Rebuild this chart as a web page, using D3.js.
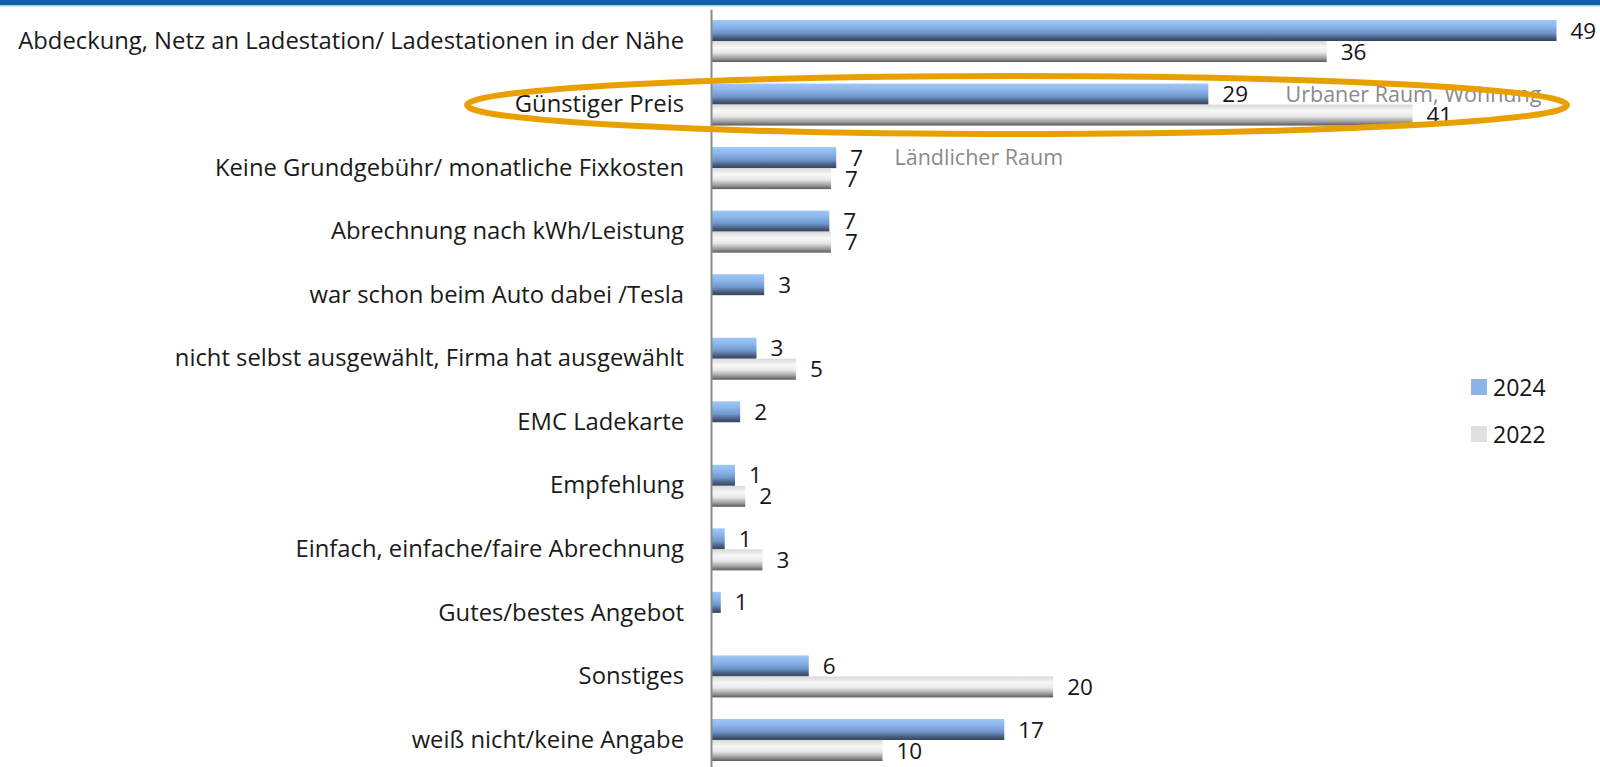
<!DOCTYPE html>
<html>
<head>
<meta charset="utf-8">
<script src="https://cdn.jsdelivr.net/npm/d3@7"></script>
<style>
  html, body { margin: 0; padding: 0; background: #fff; }
  svg { display: block; }
</style>
</head>
<body>
<script>
// ---- data ----
const categories = [
  "Abdeckung, Netz an Ladestation/ Ladestationen in der Nähe",
  "Günstiger Preis",
  "Keine Grundgebühr/ monatliche Fixkosten",
  "Abrechnung nach kWh/Leistung",
  "war schon beim Auto dabei /Tesla",
  "nicht selbst ausgewählt, Firma hat ausgewählt",
  "EMC Ladekarte",
  "Empfehlung",
  "Einfach, einfache/faire Abrechnung",
  "Gutes/bestes Angebot",
  "Sonstiges",
  "weiß nicht/keine Angabe"
];
const seriesNames = ["2024", "2022"];
const values2024 = [49.3, 29.0, 7.3, 6.9, 3.1, 2.65, 1.7, 1.4, 0.8, 0.57, 5.7, 17.1];
const values2022 = [35.9, 40.9, 7.0, 7.0, null, 4.95, null, 2.0, 3.0, null, 19.95, 10.0];
const annotations = [
  { text: "Urbaner Raum, Wohnung", cat: "Günstiger Preis", value: 33.5, series: "2024" },
  { text: "Ländlicher Raum", cat: "Keine Grundgebühr/ monatliche Fixkosten", value: 10.7, series: "2024" }
];

const W = 1600, H = 767;
const svg = d3.select("body").append("svg").attr("width", W).attr("height", H);

const defs = svg.append("defs");
const gBlue = defs.append("linearGradient").attr("id", "gBlue").attr("x1", 0).attr("y1", 0).attr("x2", 0).attr("y2", 1);
[[0, "#9fc7f5"], [0.3, "#8cb6ec"], [0.62, "#6f96cb"], [0.85, "#485c7d"], [1, "#34445e"]]
  .forEach(([o, c]) => gBlue.append("stop").attr("offset", o).attr("stop-color", c));
const gGray = defs.append("linearGradient").attr("id", "gGray").attr("x1", 0).attr("y1", 0).attr("x2", 0).attr("y2", 1);
[[0, "#d8d8d8"], [0.3, "#f8f8f8"], [0.55, "#e8e8e8"], [0.82, "#9c9c9c"], [1, "#5a5a5a"]]
  .forEach(([o, c]) => gGray.append("stop").attr("offset", o).attr("stop-color", c));

// top band
svg.append("rect").attr("x", 0).attr("y", 0).attr("width", W).attr("height", 5).attr("fill", "#0b62a8");
svg.append("rect").attr("x", 0).attr("y", 5).attr("width", W).attr("height", 1.5).attr("fill", "#a9cbe9");

// scales
const x = d3.scaleLinear().domain([0, 50]).range([711, 711 + 50 * 17.15]);
const y = d3.scaleBand().domain(categories).range([9.25, 771.75]).paddingInner(0).paddingOuter(0);
const inner = d3.scaleBand().domain(seriesNames).range([0, 42]);
const offset = (y.bandwidth() - 42) / 2;

const rows = categories.map((c, i) => ({ cat: c, v: { "2024": values2024[i], "2022": values2022[i] } }));
const bars = [];
rows.forEach(r => seriesNames.forEach(s => { if (r.v[s] != null) bars.push({ cat: r.cat, s, v: r.v[s] }); }));

const fills = { "2024": "url(#gBlue)", "2022": "url(#gGray)" };

svg.append("g").selectAll("rect").data(bars).join("rect")
  .attr("x", x(0))
  .attr("y", d => y(d.cat) + offset + inner(d.s))
  .attr("width", d => x(d.v) - x(0))
  .attr("height", inner.bandwidth())
  .attr("fill", d => fills[d.s]);

// value labels
svg.append("g").selectAll("text").data(bars).join("text")
  .attr("x", d => x(d.v) + 14)
  .attr("y", d => y(d.cat) + offset + inner(d.s) + inner.bandwidth() / 2)
  .attr("dy", "0.36em")
  .attr("font-family", "'Open Sans', sans-serif")
  .attr("font-size", 22.5)
  .attr("fill", "#151515")
  .text(d => d3.format(".0f")(d.v));

// axis (category labels + vertical line)
const axis = svg.append("g").attr("transform", `translate(${x(0)},0)`)
  .call(d3.axisLeft(y).tickSize(0).tickPadding(27));
axis.select(".domain").attr("stroke", "#8c8c8c").attr("stroke-width", 2);
axis.selectAll("text")
  .attr("font-family", "'Open Sans', sans-serif")
  .attr("font-size", 23.8)
  .attr("fill", "#1a1a1a");

// annotations
svg.append("g").selectAll("text").data(annotations).join("text")
  .attr("x", d => x(d.value))
  .attr("y", d => y(d.cat) + offset + inner(d.series) + inner.bandwidth() / 2)
  .attr("dy", "0.36em")
  .attr("font-family", "'Open Sans', sans-serif")
  .attr("font-size", 21.5)
  .attr("fill", "#8a8a8a")
  .text(d => d.text);

// highlight ellipse around "Günstiger Preis"
const hc = "Günstiger Preis";
svg.append("ellipse")
  .attr("cx", 1017)
  .attr("cy", y(hc) + y.bandwidth() / 2 + 0.5)
  .attr("rx", 550)
  .attr("ry", 29)
  .attr("fill", "none")
  .attr("stroke", "#e8a000")
  .attr("stroke-width", 6);

// legend
const legend = svg.append("g").attr("transform", "translate(1471,379)");
const lg = legend.selectAll("g").data(seriesNames).join("g")
  .attr("transform", (d, i) => `translate(0,${i * 47})`);
lg.append("rect").attr("width", 16).attr("height", 16)
  .attr("fill", d => d === "2024" ? "#8db4e6" : "#e0e0e0");
lg.append("text").attr("x", 22).attr("y", 17)
  .attr("font-family", "'Open Sans', sans-serif")
  .attr("font-size", 23)
  .attr("fill", "#151515")
  .text(d => d);
</script>
</body>
</html>
